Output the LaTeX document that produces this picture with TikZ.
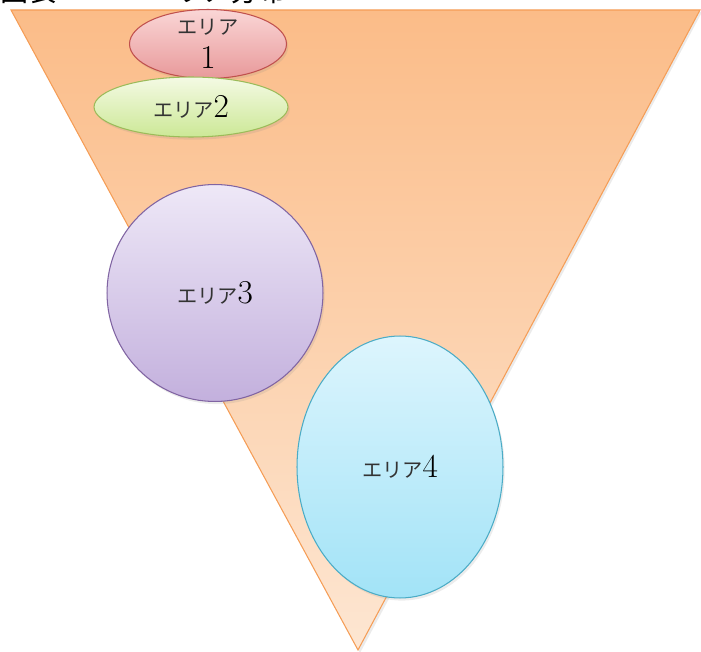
\documentclass[tikz,border=0pt]{standalone}
\usepackage{fontspec}
\newfontfamily\jpfont{Noto Sans CJK JP}
\usetikzlibrary{shapes.geometric,shadows}

\definecolor{funnelline}{HTML}{F59D56}
\definecolor{funneltop}{HTML}{FBBC88}
\definecolor{funnelbot}{HTML}{FDE6D2}
\definecolor{redline}{HTML}{C0504D}
\definecolor{redtop}{HTML}{FAD6D6}
\definecolor{redbot}{HTML}{E8999A}
\definecolor{greenline}{HTML}{9BBB59}
\definecolor{greentop}{HTML}{F4FAE4}
\definecolor{greenbot}{HTML}{CCE896}
\definecolor{purpleline}{HTML}{8064A2}
\definecolor{purpletop}{HTML}{EEE8F7}
\definecolor{purplebot}{HTML}{C3B0DD}
\definecolor{blueline}{HTML}{4BACC6}
\definecolor{bluetop}{HTML}{DDF5FD}
\definecolor{bluebot}{HTML}{A2E3F7}
\newcommand{\jplabel}[1]{{\jpfont\fontsize{11.5}{13}\selectfont\color{black!80} #1}}
\newcommand{\numlabel}[1]{{\fontsize{19}{20}\selectfont #1}}

\begin{document}
\begin{tikzpicture}[x=0.02cm, y=-0.02cm,
  area/.style={ellipse, draw, line width=0.6pt, inner sep=0pt, align=center,
    drop shadow={opacity=0.15, shadow xshift=1pt, shadow yshift=-1.5pt}},
  areaa/.style={area, draw=redline, top color=redtop, bottom color=redbot,
    minimum width=3.14cm, minimum height=1.32cm},
  areab/.style={area, draw=greenline, top color=greentop, bottom color=greenbot,
    minimum width=3.88cm, minimum height=1.2cm},
  areac/.style={area, draw=purpleline, top color=purpletop, bottom color=purplebot,
    minimum width=4.32cm, minimum height=4.34cm},
  aread/.style={area, draw=blueline, top color=bluetop, bottom color=bluebot,
    minimum width=4.12cm, minimum height=5.24cm}
]
\useasboundingbox (0,0) rectangle (701,652);

% clipped caption at the top edge
\begin{scope}
  \clip (0,0) rectangle (701,5);
  \node[anchor=base west, inner sep=0pt, font=\jpfont\fontsize{16}{18}\selectfont] (caption) at (0,2)
    {図表\hspace{3.2em}エリア分布};
\end{scope}

% funnel
\fill[black, opacity=0.08] (13,12) -- (702,12) -- (360,653) -- cycle;
\shade[top color=funneltop, bottom color=funnelbot, draw=funnelline, line width=0.6pt]
  (11,10) -- (700,10) -- (358,650) -- cycle;

\node[areaa] (area1) at (208,44) {\jplabel{エリア}\\[5pt]\numlabel{1}};
\node[areab] (area2) at (191,107) {\jplabel{エリア}\numlabel{2}};
\node[areac] (area3) at (215,293) {\jplabel{エリア}\numlabel{3}};
\node[aread] (area4) at (400,467) {\jplabel{エリア}\numlabel{4}};
\end{tikzpicture}
\end{document}
